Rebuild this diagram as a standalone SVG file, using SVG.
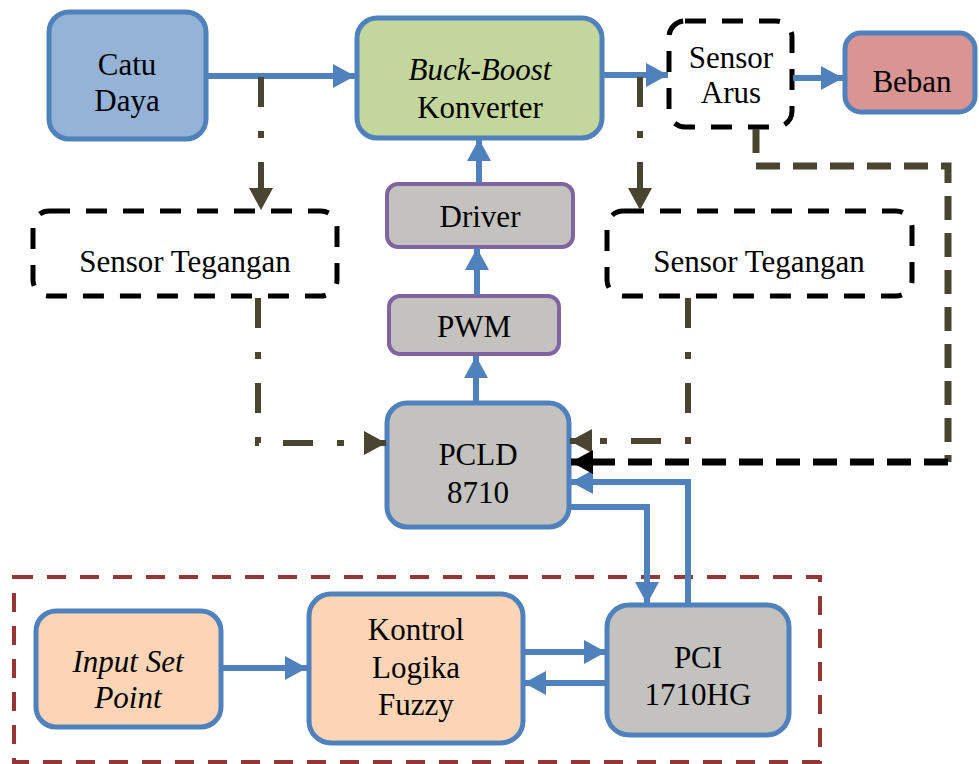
<svg xmlns="http://www.w3.org/2000/svg" width="979" height="764" viewBox="0 0 979 764">
<style>
text{font-family:"Liberation Serif","Times New Roman",serif;font-size:31px;fill:#000;text-anchor:middle}
.it{font-style:italic}
.blue{fill:none;stroke:#4f81bd;stroke-width:6}
.olive{fill:none;stroke:#4a4530;stroke-width:6;stroke-dasharray:30 24 7 24}
.sens{fill:#fff;stroke:#000;stroke-width:5;stroke-dasharray:21 16}
.bx{stroke:#4f81bd;stroke-width:5}
.px{stroke:#8064a2;stroke-width:4}
.gray{fill:#c3c2be}
</style>
<defs>
<marker id="ab" markerUnits="userSpaceOnUse" markerWidth="22" markerHeight="24" refX="22" refY="12" orient="auto"><path d="M0,0 L22,12 L0,24 z" fill="#4f81bd"/></marker>
<marker id="ao" markerUnits="userSpaceOnUse" markerWidth="22" markerHeight="24" refX="22" refY="12" orient="auto"><path d="M0,0 L22,12 L0,24 z" fill="#4a4530"/></marker>
<marker id="ak" markerUnits="userSpaceOnUse" markerWidth="22" markerHeight="24" refX="22" refY="12" orient="auto"><path d="M0,0 L22,12 L0,24 z" fill="#000"/></marker>
</defs>
<rect width="979" height="764" fill="#fff"/>
<rect x="14" y="577" width="806" height="185" fill="none" stroke="#943634" stroke-width="4" stroke-dasharray="19 14"/>
<g id="catu"><rect x="49" y="12" width="157" height="127" rx="20" fill="#95b3d7" class="bx"/><text x="127" y="75">Catu</text><text x="127" y="111">Daya</text></g>
<g id="buck"><rect x="357" y="18" width="245" height="120" rx="20" fill="#c3d69b" class="bx"/><text x="480" y="80" class="it">Buck-Boost</text><text x="480" y="118">Konverter</text></g>
<g id="arus"><rect x="669" y="21" width="123" height="106" rx="16" class="sens"/><text x="731" y="68">Sensor</text><text x="731" y="103">Arus</text></g>
<g id="beban"><rect x="845" y="33" width="130" height="79" rx="16" fill="#d99594" class="bx"/><text x="912" y="92">Beban</text></g>
<g id="stL"><rect x="33" y="211" width="304" height="85" rx="16" class="sens"/><text x="185" y="272">Sensor Tegangan</text></g>
<g id="stR"><rect x="607" y="211" width="305" height="85" rx="16" class="sens"/><text x="759" y="272">Sensor Tegangan</text></g>
<g id="driver"><rect x="387" y="184" width="186" height="63" rx="11" class="gray px"/><text x="480" y="227">Driver</text></g>
<g id="pwm"><rect x="389" y="296" width="170" height="58" rx="11" class="gray px"/><text x="474" y="337">PWM</text></g>
<g id="pcld"><rect x="387" y="403" width="182" height="124" rx="20" class="gray bx"/><text x="478" y="465">PCLD</text><text x="478" y="503">8710</text></g>
<g id="pci"><rect x="607" y="605" width="182" height="130" rx="22" class="gray bx"/><text x="698" y="668">PCI</text><text x="698" y="705">1710HG</text></g>
<g id="fuzzy"><rect x="309" y="594" width="214" height="149" rx="22" fill="#fbd5b5" class="bx"/><text x="416" y="640">Kontrol</text><text x="416" y="678">Logika</text><text x="416" y="715">Fuzzy</text></g>
<g id="input"><rect x="36" y="611" width="185" height="116" rx="20" fill="#fbd5b5" class="bx"/><text x="128" y="672" class="it">Input Set</text><text x="128" y="708" class="it">Point</text></g>
<g id="connectors">
<path class="blue" d="M207,76 L355,76" marker-end="url(#ab)"/>
<path class="blue" d="M603,75 L668,75" marker-end="url(#ab)"/>
<path class="blue" d="M793,78 L843,78" marker-end="url(#ab)"/>
<path class="blue" d="M479,183 L479,139" marker-end="url(#ab)"/>
<path class="blue" d="M477,295 L477,248" marker-end="url(#ab)"/>
<path class="blue" d="M476,402 L476,356" marker-end="url(#ab)"/>
<path class="blue" d="M570,507 L647,507 L647,604" marker-end="url(#ab)"/>
<path class="blue" d="M688,604 L688,482 L571,482" marker-end="url(#ab)"/>
<path class="blue" d="M222,668 L307,668" marker-end="url(#ab)"/>
<path class="blue" d="M523,652 L606,652" marker-end="url(#ab)"/>
<path class="blue" d="M606,683 L524,683" marker-end="url(#ab)"/>
<path class="olive" d="M261,77 L261,210" marker-end="url(#ao)"/>
<path class="olive" d="M640,77 L640,210" marker-end="url(#ao)"/>
<path class="olive" d="M258,298 L258,443 L386,443" marker-end="url(#ao)"/>
<path class="olive" d="M688,298 L688,441 L570,441" marker-end="url(#ao)"/>
<path d="M756,129 L756,166 L948,166 L948,462" fill="none" stroke="#4a4530" stroke-width="7" stroke-dasharray="24 13"/>
<path d="M948,462 L571,462" fill="none" stroke="#000" stroke-width="7" stroke-dasharray="24 13" marker-end="url(#ak)"/>
</g>
</svg>
